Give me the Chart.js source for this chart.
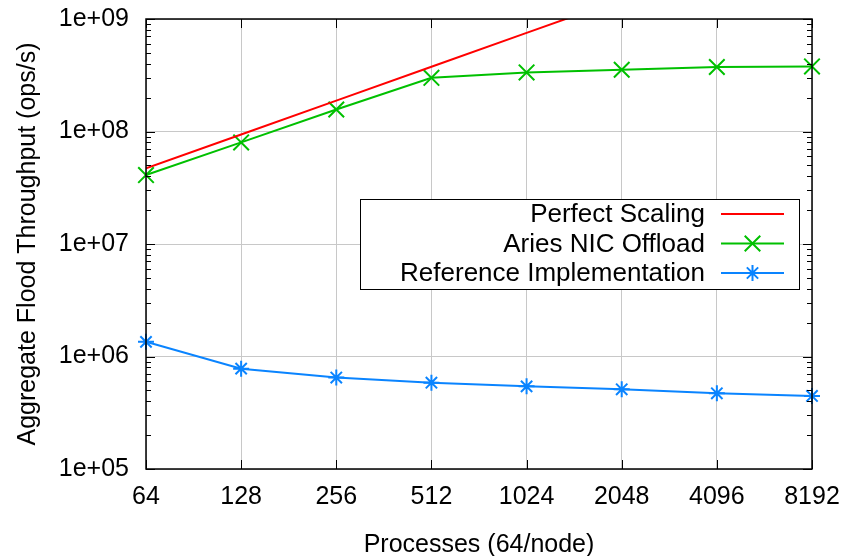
<!DOCTYPE html>
<html>
<head>
<meta charset="utf-8">
<script src="https://cdn.jsdelivr.net/npm/chart.js@4.4.0/dist/chart.umd.min.js"></script>
<style>
  html, body { margin: 0; padding: 0; background: #fff; }
</style>
</head>
<body>
<canvas id="mycanvas" width="858" height="556"></canvas>
<script>
// data
var procs = ['64', '128', '256', '512', '1024', '2048', '4096', '8192'];
var perfect = [4.7e7, 9.4e7, 1.88e8, 3.76e8, 7.52e8, 1.504e9, 3.008e9, 6.016e9];
var aries = [4.1e7, 8.0e7, 1.57e8, 3.0e8, 3.35e8, 3.54e8, 3.74e8, 3.79e8];
var reference = [1.35e6, 7.8e5, 6.5e5, 5.85e5, 5.43e5, 5.11e5, 4.71e5, 4.46e5];
var yTicks = [1e5, 1e6, 1e7, 1e8, 1e9];

Chart.defaults.font.family = '"Liberation Sans", Arial, sans-serif';
Chart.defaults.color = '#000';

// gnuplot style frame, inward ticks and boxed legend
var gnuplotLook = {
  id: 'gnuplotLook',
  afterDatasetsDraw: function(chart) {
    var ctx = chart.ctx;
    var bx = 360, by = 199, bw = 439, bh = 90;
    ctx.save();
    ctx.fillStyle = '#fff';
    ctx.fillRect(bx, by, bw, bh);
    ctx.strokeStyle = '#000';
    ctx.lineWidth = 1;
    ctx.strokeRect(bx + 0.5, by + 0.5, bw, bh);
    ctx.font = '26px "Liberation Sans", Arial, sans-serif';
    ctx.textAlign = 'right';
    ctx.textBaseline = 'middle';
    chart.data.datasets.forEach(function(ds, i) {
      var y = by + 15 + i * 29.5;
      ctx.fillStyle = '#000';
      ctx.fillText(ds.label, 705, y + 1);
      ctx.strokeStyle = ds.borderColor;
      ctx.lineWidth = 2;
      ctx.beginPath();
      ctx.moveTo(721, y);
      ctx.lineTo(784, y);
      ctx.stroke();
      if (ds.pointRadius > 0) {
        Chart.helpers.drawPoint(ctx, {
          pointStyle: ds.pointStyle,
          radius: ds.pointRadius,
          borderWidth: ds.pointBorderWidth
        }, 752.5, y);
      }
    });
    ctx.restore();
  },
  afterDraw: function(chart) {
    var ctx = chart.ctx;
    var a = chart.chartArea;
    var ys = chart.scales.y;
    var xs = chart.scales.x;
    ctx.save();
    ctx.strokeStyle = '#000';
    ctx.lineWidth = 1;
    ctx.beginPath();
    for (var d = 0; d < yTicks.length; d++) {
      for (var m = 1; m <= 9; m++) {
        var v = yTicks[d] * m;
        if (v > yTicks[yTicks.length - 1]) break;
        var py = Math.round(ys.getPixelForValue(v)) + 0.5;
        var len = m === 1 ? 9 : 5;
        ctx.moveTo(a.left, py);
        ctx.lineTo(a.left + len, py);
        ctx.moveTo(a.right, py);
        ctx.lineTo(a.right - len, py);
      }
    }
    for (var i = 0; i < procs.length; i++) {
      var px = Math.round(xs.getPixelForValue(i)) + 0.5;
      ctx.moveTo(px, a.bottom);
      ctx.lineTo(px, a.bottom - 9);
      ctx.moveTo(px, a.top);
      ctx.lineTo(px, a.top + 9);
    }
    ctx.stroke();
    ctx.lineWidth = 1.5;
    ctx.strokeRect(a.left, a.top, a.right - a.left, a.bottom - a.top);
    ctx.restore();
  }
};

var ctx = document.getElementById('mycanvas');

var chartdata = {
  labels: procs,
  datasets: [
    {
      label: 'Perfect Scaling',
      data: perfect,
      borderColor: '#ff0000',
      backgroundColor: '#ff0000',
      borderWidth: 2,
      pointRadius: 0,
      clip: 0
    },
    {
      label: 'Aries NIC Offload',
      data: aries,
      borderColor: '#00c000',
      backgroundColor: '#00c000',
      borderWidth: 2,
      pointStyle: 'crossRot',
      pointRadius: 11,
      pointBorderWidth: 2,
      clip: false
    },
    {
      label: 'Reference Implementation',
      data: reference,
      borderColor: '#0a84ff',
      backgroundColor: '#0a84ff',
      borderWidth: 2,
      pointStyle: 'star',
      pointRadius: 8,
      pointBorderWidth: 2,
      clip: false
    }
  ]
};

var fluxChart = new Chart(ctx, {
  type: 'line',
  data: chartdata,
  plugins: [gnuplotLook],
  options: {
    responsive: false,
    animation: false,
    events: [],
    layout: { padding: { top: 19, right: 46, left: 0, bottom: 0 } },
    plugins: {
      legend: { display: false },
      tooltip: { enabled: false }
    },
    elements: { line: { tension: 0 } },
    scales: {
      x: {
        type: 'category',
        offset: false,
        afterFit: function(scale) {
          scale.height = 87;
          scale.paddingLeft = 0;
          scale.paddingRight = 0;
        },
        grid: { color: '#c8c8c8', lineWidth: 1, drawTicks: false },
        border: { display: false },
        ticks: { font: { size: 25 }, padding: 13, maxRotation: 0, autoSkip: false },
        title: {
          display: true,
          text: 'Processes (64/node)',
          font: { size: 25, lineHeight: 0.9 },
          padding: { top: 0, bottom: 0 }
        }
      },
      y: {
        type: 'logarithmic',
        min: 1e5,
        max: 1e9,
        afterFit: function(scale) {
          scale.width = 146;
          scale.paddingTop = 0;
          scale.paddingBottom = 0;
        },
        afterBuildTicks: function(scale) {
          scale.ticks = yTicks.map(function(v) { return { value: v }; });
        },
        grid: { color: '#c8c8c8', lineWidth: 1, drawTicks: false },
        border: { display: false },
        ticks: {
          font: { size: 25 },
          padding: 17,
          callback: function(v) {
            var e = Math.round(Math.log10(v));
            return '1e+' + String(e).padStart(2, '0');
          }
        },
        title: {
          display: true,
          text: 'Aggregate Flood Throughput (ops/s)',
          font: { size: 25, lineHeight: 1.2 },
          padding: { top: 13, bottom: 0 }
        }
      }
    }
  }
});
</script>
</body>
</html>
